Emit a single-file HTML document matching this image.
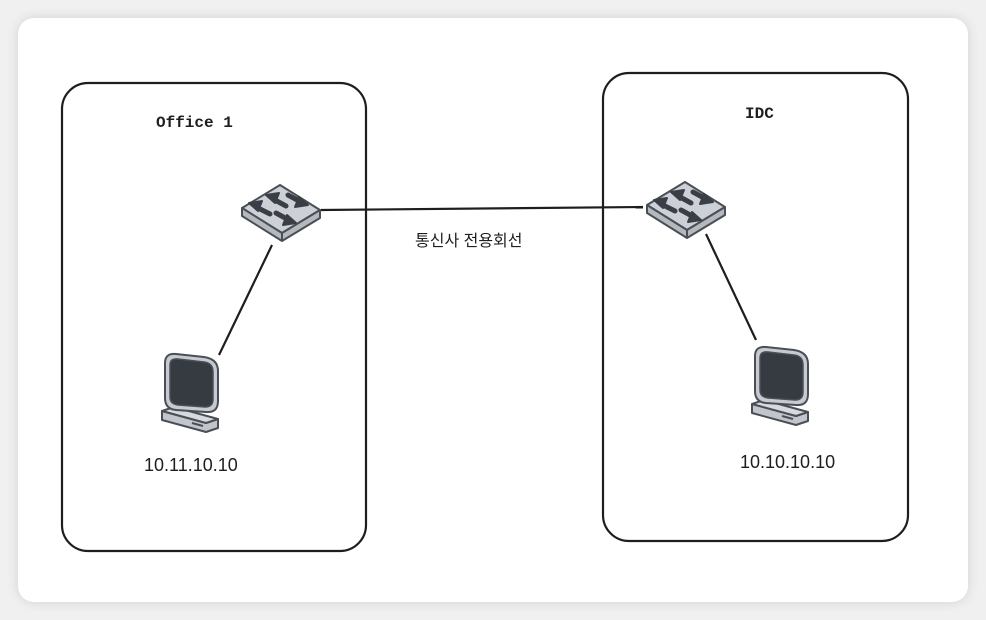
<!DOCTYPE html>
<html><head><meta charset="utf-8"><style>
html,body{margin:0;padding:0;background:#f0f0f0;width:986px;height:620px;overflow:hidden}
.card{position:absolute;left:18px;top:18px;width:950px;height:584px;background:#fff;border-radius:16px;box-shadow:0 0 12px rgba(0,0,0,0.12)}
svg{position:absolute;left:0;top:0}
</style></head><body>
<div class="card"></div>
<svg width="986" height="620" viewBox="0 0 986 620">
<defs>
<g id="sw">
<path d="M0,0 L38,-23 L78,2 L40,25 Z" fill="#cdd0d6" stroke="#4a4f56" stroke-width="2" stroke-linejoin="round"/>
<path d="M0,0 L0,8 L40,33 L78,10 L78,2 L40,25 Z" fill="#b4b8bf" stroke="#4a4f56" stroke-width="2" stroke-linejoin="round"/>
<line x1="40" y1="25" x2="40" y2="33" stroke="#4a4f56" stroke-width="2"/>
<g fill="#3a3f46" stroke="#3a3f46" stroke-linecap="round" stroke-linejoin="round">
<line x1="33" y1="-8" x2="44" y2="-2" stroke-width="5"/><path d="M24,-13 l13,-2 l-4,10z" stroke-width="2"/>
<line x1="16" y1="0" x2="28" y2="6" stroke-width="5"/><path d="M7,-5 l13,-2 l-4,10z" stroke-width="2"/>
<line x1="46" y1="-13" x2="57" y2="-7" stroke-width="5"/><path d="M66,-3 l-13,2 l4,-10z" stroke-width="2"/>
<line x1="34" y1="5" x2="45" y2="11" stroke-width="5"/><path d="M54,15 l-13,2 l4,-10z" stroke-width="2"/>
</g>
</g>
<g id="pc">
<path d="M0,58 L44,70 L56,66 L56,75 L44,79 L0,67 Z" fill="#c2c6cc" stroke="#4a4f56" stroke-width="2" stroke-linejoin="round"/>
<path d="M0,58 L12,54 L56,66 L44,70 Z" fill="#d6d9de" stroke="#4a4f56" stroke-width="2" stroke-linejoin="round"/>
<line x1="30" y1="70" x2="41" y2="73" stroke="#4a4f56" stroke-width="2"/>
<path d="M3,10 Q3,0 14,1 L42,4 Q56,6 56,18 L56,48 Q56,60 44,59 L14,57 Q3,56 3,45 Z" fill="#c7cbd1" stroke="#4a4f56" stroke-width="2"/>
<path d="M8,12 Q8,5 16,6 L42,9 Q51,10 51,19 L51,46 Q51,54 43,54 L16,52 Q8,51 8,44 Z" fill="#363a41" stroke="#4a4f56" stroke-width="1.5"/>
</g>
</defs>
<g fill="none" stroke="#1e1e1e" stroke-width="2.2">
<rect x="62" y="83" width="304" height="468" rx="26"/>
<rect x="603" y="73" width="305" height="468" rx="26"/>
<line x1="321" y1="210" x2="643" y2="207"/>
<line x1="272" y1="245" x2="219" y2="355"/>
<line x1="706" y1="234" x2="756" y2="340"/>
</g>
<use href="#sw" x="242" y="208"/>
<use href="#sw" x="647" y="205"/>
<use href="#pc" x="162" y="353"/>
<use href="#pc" x="752" y="346"/>
<g font-family="'Liberation Sans','Noto Sans CJK KR',sans-serif" fill="#1e1e1e">
<text x="156" y="127" font-size="16" font-weight="bold" font-family="'Liberation Mono',monospace">Office 1</text>
<text x="745" y="118" font-size="16" font-weight="bold" font-family="'Liberation Mono',monospace">IDC</text>
<text x="415" y="246" font-size="16">통신사 전용회선</text>
<text x="144" y="471" font-size="18">10.11.10.10</text>
<text x="740" y="468" font-size="18">10.10.10.10</text>
</g>
</svg>
</body></html>
